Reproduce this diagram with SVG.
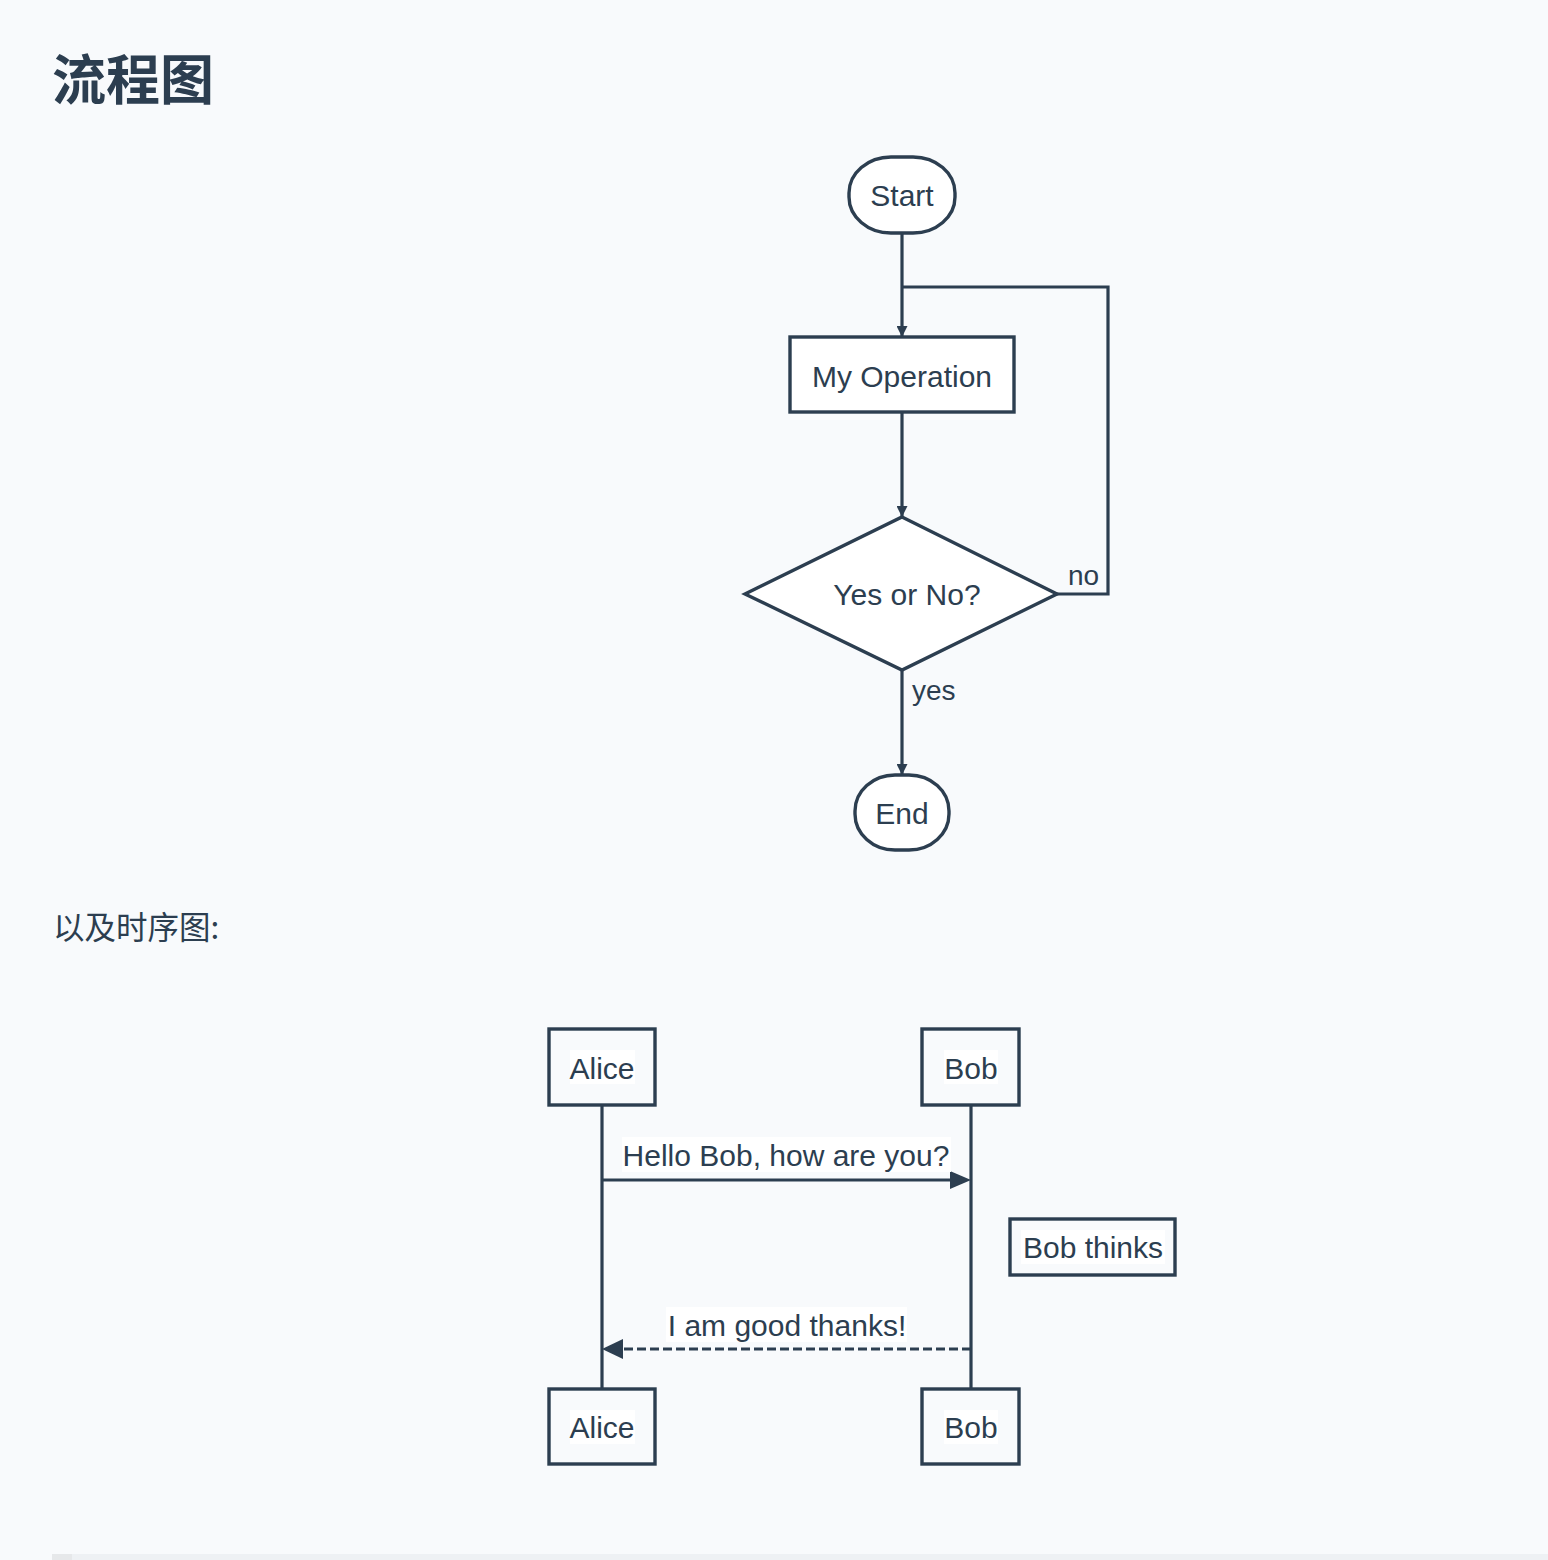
<svg xmlns="http://www.w3.org/2000/svg" width="1548" height="1560" viewBox="0 0 1548 1560">
<style>
text{font-family:"Liberation Sans",Arial,"Noto Sans CJK SC",sans-serif;fill:#2c3e50;}
.t{font-size:30px;text-anchor:middle;}
.lbl{font-size:28px;}
.shape{fill:#fff;stroke:#2c3e50;stroke-width:3.4;}
.sbox{fill:none;stroke:#2c3e50;stroke-width:3.4;}
.ln{fill:none;stroke:#2c3e50;stroke-width:3.2;}
.bg{fill:#fff;}
.cjk{font-family:"Noto Sans CJK SC","Liberation Sans",sans-serif;}
</style>
<defs>
<marker id="ah" markerWidth="11" markerHeight="11" refX="10" refY="5.5" orient="auto" markerUnits="userSpaceOnUse">
<path d="M0,0 L11,5.5 L0,11 Z" fill="#2c3e50"/>
</marker>
</defs>
<rect x="0" y="0" width="1548" height="1560" fill="#f8fafc"/>
<text class="cjk" x="52" y="100" font-size="54" font-weight="700">流程图</text>
<text class="cjk" x="53" y="939" font-size="31.5">以及时序图:</text>

<g id="connectors">
<path class="ln" d="M902,233 V336" marker-end="url(#ah)"/>
<path class="ln" d="M1057,594 H1108 V287 H902"/>
<path class="ln" d="M902,412 V516" marker-end="url(#ah)"/>
<path class="ln" d="M902,670 V774" marker-end="url(#ah)"/>
<text class="lbl" x="1068" y="585">no</text>
<text class="lbl" x="912" y="700">yes</text>
</g>

<g id="start"><rect class="shape" x="849" y="157" width="106" height="76" rx="42" ry="36"/><text class="t" x="902" y="206">Start</text></g>
<g id="op"><rect class="shape" x="790" y="337" width="224" height="75"/><text class="t" x="902" y="387">My Operation</text></g>
<g id="cond"><polygon class="shape" points="902,517 1057,594 902,670 745,594"/><text class="t" x="907" y="605">Yes or No?</text></g>
<g id="end"><rect class="shape" x="855" y="775" width="94" height="75" rx="40" ry="36"/><text class="t" x="902" y="824">End</text></g>

<g id="seq-connectors">
<line class="ln" x1="602" y1="1105" x2="602" y2="1389"/>
<line class="ln" x1="971" y1="1105" x2="971" y2="1389"/>
<line class="ln" x1="602" y1="1180" x2="952" y2="1180"/>
<polygon points="950,1171 971,1180 950,1189" fill="#2c3e50"/>
<rect class="bg" x="622" y="1137" width="329" height="35"/>
<text class="t" x="786" y="1166">Hello Bob, how are you?</text>
<line class="ln" x1="971" y1="1349" x2="620" y2="1349" stroke-dasharray="9,4"/>
<polygon points="623,1339 602,1349 623,1359" fill="#2c3e50"/>
<rect class="bg" x="666" y="1307" width="241" height="35"/>
<text class="t" x="787" y="1336">I am good thanks!</text>
</g>

<g id="alice-top"><rect class="sbox" x="549" y="1029" width="106" height="76"/><rect class="bg" x="570" y="1050" width="65" height="34"/><text class="t" x="602" y="1079">Alice</text></g>
<g id="bob-top"><rect class="sbox" x="922" y="1029" width="97" height="76"/><rect class="bg" x="944" y="1050" width="54" height="34"/><text class="t" x="971" y="1079">Bob</text></g>
<g id="note"><rect class="sbox" x="1010" y="1219" width="165" height="56"/><rect class="bg" x="1021" y="1230" width="144" height="34"/><text class="t" x="1093" y="1258">Bob thinks</text></g>
<g id="alice-bottom"><rect class="sbox" x="549" y="1389" width="106" height="75"/><rect class="bg" x="570" y="1410" width="65" height="34"/><text class="t" x="602" y="1438">Alice</text></g>
<g id="bob-bottom"><rect class="sbox" x="922" y="1389" width="97" height="75"/><rect class="bg" x="944" y="1410" width="54" height="34"/><text class="t" x="971" y="1438">Bob</text></g>

<rect x="52" y="1554" width="1496" height="6" fill="#eef1f4"/>
<rect x="52" y="1554" width="20" height="6" fill="#e6e8ea"/>
</svg>
